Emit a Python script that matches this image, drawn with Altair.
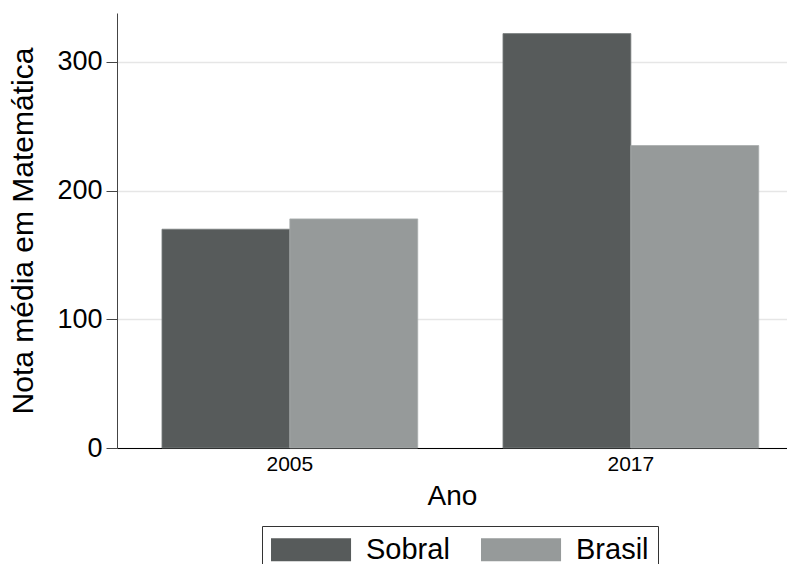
import altair as alt
import pandas as pd

years = ["2005", "2005", "2017", "2017"]
groups = ["Sobral", "Brasil", "Sobral", "Brasil"]
values = [170, 178, 322, 235]

series_order = ["Sobral", "Brasil"]
series_colors = ["#575b5b", "#969a9a"]

df = pd.DataFrame({"Ano": years, "Serie": groups, "Nota": values})

FONT = "Liberation Sans"

chart = alt.Chart(df).mark_bar(strokeWidth=0.8).encode(
    x=alt.X("Ano:N", title="Ano",
            scale=alt.Scale(paddingInner=0.25, paddingOuter=0.1074, align=0.614),
            axis=alt.Axis(labelAngle=0, labelFontSize=21, titleFontSize=28,
                          titleFontWeight="normal", labelPadding=5, titlePadding=8,
                          domainColor="#000000", tickSize=0, labelColor="#000",
                          titleColor="#000")),
    xOffset=alt.XOffset("Serie:N", sort=series_order),
    y=alt.Y("Nota:Q", title="Nota média em Matemática",
            scale=alt.Scale(domain=[0, 338], nice=False),
            axis=alt.Axis(values=[0, 100, 200, 300], labelFontSize=27, titleFontSize=30,
                          titleFontWeight="normal", tickSize=11, labelPadding=4,
                          titlePadding=18, domainColor="#444", tickColor="#444",
                          gridColor="#e6e6e6", gridWidth=1.5, labelColor="#000",
                          titleColor="#000")),
    color=alt.Color("Serie:N", sort=series_order,
                    scale=alt.Scale(domain=series_order, range=series_colors),
                    legend=alt.Legend(title=None, orient="none", direction="horizontal",
                                      legendX=145, legendY=513,
                                      symbolType="M-1.26,-1L5.7,-1L5.7,1L-1.26,1Z",
                                      symbolSize=529, symbolStrokeWidth=0,
                                      labelFontSize=29, labelOffset=66, columnPadding=31,
                                      strokeColor="#333", padding=9,
                                      labelColor="#000")),
    stroke=alt.Color("Serie:N", sort=series_order,
                     scale=alt.Scale(domain=series_order, range=["#7a7e7e", "#a8acac"]),
                     legend=None),
).properties(
    width=670, height=435,
    autosize=alt.AutoSizeParams(type="none"),
    padding={"top": 5, "left": 109, "right": 0, "bottom": 116},
).configure(font=FONT).configure_view(stroke=None).configure_axisX(grid=False)

chart.save("out.html", embed_options={"renderer": "svg", "actions": False})
